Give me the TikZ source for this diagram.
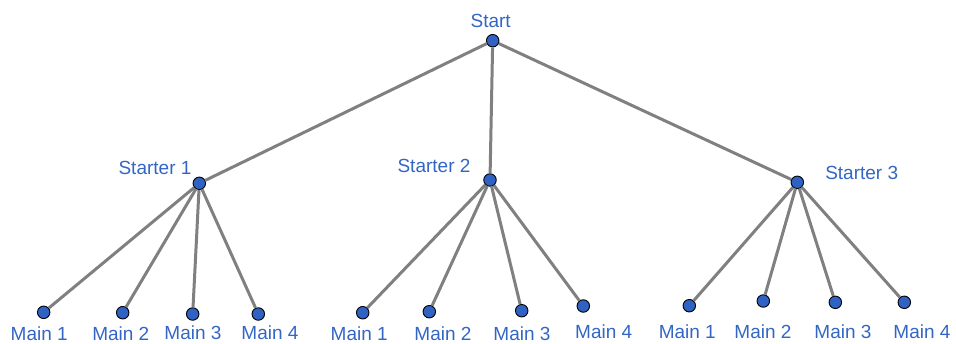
\documentclass[tikz,border=0pt]{standalone}
\usepackage{fontspec}
\setmainfont{Liberation Sans}
\definecolor{linkgray}{HTML}{808080}
\definecolor{dotblue}{HTML}{2F62C2}
\definecolor{labelblue}{HTML}{3366C4}
\begin{document}
\begin{tikzpicture}[x=1pt,y=-1pt,
  dot/.style={circle,draw=black,line width=0.9pt,fill=dotblue,minimum size=12.5pt,inner sep=0pt},
  lbl/.style={text=labelblue,inner sep=0pt,font=\fontsize{19}{22}\selectfont},
  link/.style={draw=linkgray,line width=3pt}]
\useasboundingbox (0,0) rectangle (956,343);
% tree nodes
\node[dot] (s)  at (492.7,40.7) {};
\node[dot] (a)  at (199.3,183.3) {};
\node[dot] (b)  at (490,180) {};
\node[dot] (c)  at (797.3,182.3) {};
\node[dot] (a1) at (43.7,312.3) {};
\node[dot] (a2) at (122.7,312.7) {};
\node[dot] (a3) at (192.7,314) {};
\node[dot] (a4) at (258.3,314) {};
\node[dot] (b1) at (362.7,312.7) {};
\node[dot] (b2) at (429.3,311.7) {};
\node[dot] (b3) at (521.7,310.7) {};
\node[dot] (b4) at (583.3,306) {};
\node[dot] (c1) at (689.3,305.7) {};
\node[dot] (c2) at (763.3,301) {};
\node[dot] (c3) at (835.3,302.3) {};
\node[dot] (c4) at (904.3,302.3) {};
% labels
\node[lbl] (ls)  at (490.7,20.7) {Start};
\node[lbl] (la)  at (155,168.3) {Starter 1};
\node[lbl] (lb)  at (434,166) {Starter 2};
\node[lbl] (lc)  at (861.7,173.3) {Starter 3};
\node[lbl] (la1) at (39.2,334) {Main 1};
\node[lbl] (la2) at (120.8,334) {Main 2};
\node[lbl] (la3) at (193,332.7) {Main 3};
\node[lbl] (la4) at (270,332.7) {Main 4};
\node[lbl] (lb1) at (359.2,333.3) {Main 1};
\node[lbl] (lb2) at (443,333.3) {Main 2};
\node[lbl] (lb3) at (522,333.3) {Main 3};
\node[lbl] (lb4) at (603.7,331.7) {Main 4};
\node[lbl] (lc1) at (687.3,331.7) {Main 1};
\node[lbl] (lc2) at (763,331.7) {Main 2};
\node[lbl] (lc3) at (843,331.7) {Main 3};
\node[lbl] (lc4) at (922,331.7) {Main 4};
% connectors
\foreach \t in {a,b,c} \draw[link] (s) -- (\t);
\foreach \t in {a,b,c} \foreach \i in {1,2,3,4} \draw[link] (\t) -- (\t\i);
\end{tikzpicture}
\end{document}
